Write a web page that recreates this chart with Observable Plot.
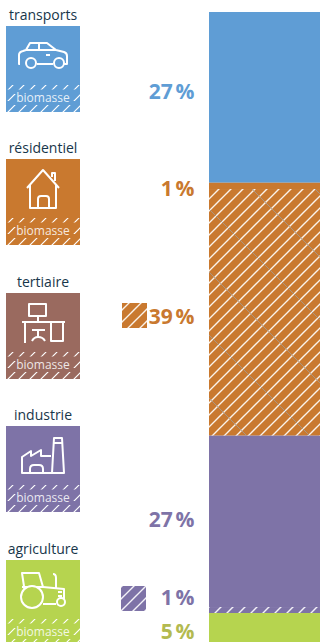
<!DOCTYPE html>
<html lang="fr">
<head>
<meta charset="utf-8">
<script src="https://cdn.jsdelivr.net/npm/d3@7"></script>
<script src="https://cdn.jsdelivr.net/npm/@observablehq/plot@0.6"></script>
<style>html,body{margin:0;padding:0;background:#fff;overflow:hidden}svg{display:block}</style>
</head>
<body>
<div id="chart"></div>
<script>
// data
const segments = ["transports","résidentiel","tertiaire","industrie","industrie biomasse","agriculture"];
const values = [27.1,1.0,39.15,27.2,0.95,4.6];
const shown = [27,1,39,27,1,5];
const labelAt = [12.7,28.1,48.3,80.6,93,98.4];
const segFill = ["#5f9dd5","#c9792f","url(#hatchO)","#7e73a7","url(#hatchP)","#b6d44f"];
const labelFill = ["#5f9dd5","#c9792f","#c9792f","#7e73a7","#7e73a7","#b3ba50"];
const tileNames = ["transports","résidentiel","tertiaire","industrie","agriculture"];
const tileFill = ["#5f9dd5","#c9792f","#9a6a5f","#7e73a7","#b6d44f"];

// layout
const tileTop = [26,159,293,426,560];
const swatches = [{x:122,y:303,id:"hatchO"},{x:121,y:586,id:"hatchP"}];
const icons = [
  {p:["M14 38H13V29Q13 26 17 25L20 24L24 17H41L50 24L58 26Q61 27 61 30V38H58","M31 38H47","M20 24H50","M33 17V24","M40 29H44"],c:[[25,37,5],[53,37,5]]},
  {p:["M21 29L37 11L53 29","M24 26V49H50V26","M32 49V40Q32 37 35 37H40Q43 37 43 40V49","M46 18V14H49V22"],c:[]},
  {p:["M23 11H40V23H23Z","M32 23V29","M16 29H59","M19 29V50","M45 29V48H57V29","M26 37H39","M32 37V44","M26 48Q28 44 32 44Q37 44 39 48"],c:[]},
  {p:["M46 47L48 12H56L58 47Z","M48 17H56","M46 47H16V31L25 25V30L35 24V30H45","M24 47V43Q24 39 28 39H33Q37 39 37 43V47"],c:[]},
  {p:["M19 33L16 13H33L37 27H16","M37 27L58 29V39","M47 14Q50 14 50 18V28","M37 44H50","M52 32H56","M52 36H56"],c:[[26,37,11],[55,42,4]]}
];

const rows = segments.map((s,i)=>({s,v:values[i],shown:shown[i],at:labelAt[i],base:segFill[i],lab:labelFill[i],overlay:s==="tertiaire"?"url(#greyLines)":"none"}));

function decor(){
  const g = d3.create("svg:g");
  const defs = g.append("defs");
  const hatch = (id,bg,w,color,stroke,dir) => {
    const p = defs.append("pattern").attr("id",id).attr("patternUnits","userSpaceOnUse").attr("width",w).attr("height",w);
    if(bg) p.append("rect").attr("width",w).attr("height",w).attr("fill",bg);
    const d = dir>0 ? `M${-w/2} ${w*1.5}L${w*1.5} ${-w/2}M${-w} ${w}L${w} ${-w}M0 ${w*2}L${w*2} 0` : `M${-w/2} ${-w/2}L${w*1.5} ${w*1.5}M${-w} 0L${w} ${w*2}M0 ${-w}L${w*2} ${w}`;
    p.append("path").attr("d",d).attr("stroke",color).attr("stroke-width",stroke).attr("fill","none");
  };
  hatch("hatchO","#c9792f",12,"#fbf3ea",1.4,1);
  hatch("hatchP","#7e73a7",12,"#f4f2f8",1.4,1);
  hatch("greyLines",null,63,"#a39d95",0.8,-1);
  hatch("tileH",null,11,"#fff",1.2,1);
  tileNames.forEach((name,i)=>{
    const t = g.append("g").attr("transform",`translate(6,${tileTop[i]})`);
    t.append("text").attr("x",37).attr("y",-6).attr("text-anchor","middle")
      .attr("font-family","'Open Sans'").attr("font-size",14).attr("fill","#17364a").text(name);
    const clipH = 86;
    t.append("rect").attr("width",74).attr("height",clipH).attr("fill",tileFill[i]);
    t.append("rect").attr("y",59).attr("width",74).attr("height",clipH-59).attr("fill","url(#tileH)");
    t.append("rect").attr("y",63.5).attr("width",74).attr("height",4.5).attr("fill",tileFill[i]);
    t.append("rect").attr("y",75).attr("width",74).attr("height",4).attr("fill",tileFill[i]);
    t.append("rect").attr("x",10).attr("y",64).attr("width",56).attr("height",15).attr("fill",tileFill[i]);
    t.append("text").attr("x",37).attr("y",76).attr("text-anchor","middle")
      .attr("font-family","'Open Sans'").attr("font-size",12).attr("fill","#fff").attr("fill-opacity",.85).text("biomasse");
    const ic = t.append("g").attr("fill","none").attr("stroke","#fff").attr("stroke-width",2).attr("stroke-linejoin","round");
    icons[i].p.forEach(d=>ic.append("path").attr("d",d));
    icons[i].c.forEach(([x,y,r])=>ic.append("circle").attr("cx",x).attr("cy",y).attr("r",r).attr("fill",tileFill[i]));
  });
  swatches.forEach(s=>g.append("rect").attr("x",s.x).attr("y",s.y).attr("width",25).attr("height",25).attr("fill",`url(#${s.id})`));
  return g.node();
}

const chart = Plot.plot({
  width:320,height:642,
  marginLeft:209,marginRight:0,marginTop:12,marginBottom:0,
  x:{axis:null},
  y:{axis:null,domain:[0,d3.sum(values)],reverse:true},
  color:{type:"identity"},
  style:{background:"#fff",overflow:"visible"},
  marks:[
    decor,
    Plot.barY(rows,{y:"v",fill:"base"}),
    Plot.barY(rows,{y:"v",fill:"overlay"}),
    Plot.text(rows,{y:"at",text:d=>`${d.shown}\u202f%`,frameAnchor:"left",dx:-15,textAnchor:"end",fill:"lab",fontFamily:"'Open Sans'",fontWeight:700,fontSize:21})
  ]
});
document.getElementById("chart").append(chart);
</script>
</body>
</html>
